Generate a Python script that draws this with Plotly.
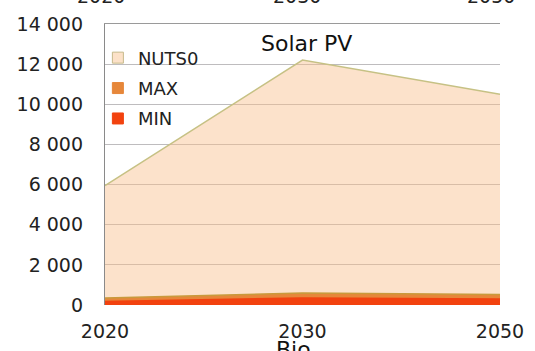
import plotly.graph_objects as go

years = ["2020", "2030", "2050"]
nuts0 = [5950, 12200, 10500]
max_vals = [350, 600, 520]
min_vals = [180, 350, 300]
series_names = ["NUTS0", "MAX", "MIN"]
y_ticks = [0, 2000, 4000, 6000, 8000, 10000, 12000, 14000]
top_labels = ["2020", "2030", "2050"]
title_text = "Solar PV"
next_title = "Bio"

FONT = "DejaVu Sans"
fills = ["rgba(248,190,140,0.45)", "#E6873A", "#F2420F"]
lines = ["#C6C184", "#C99A3C", "#F2420F"]
legend_fill = ["#FCE1C8", "#E6873A", "#F2420F"]
legend_line = ["#C6B98A", "#E6873A", "#F2420F"]
values = [nuts0, max_vals, min_vals]

fig = go.Figure()
for name, vals, fc, lc in zip(series_names, values, fills, lines):
    fig.add_trace(go.Scatter(
        x=years, y=vals, mode="lines", fill="tozeroy",
        fillcolor=fc, line=dict(color=lc, width=1.5),
        showlegend=False, name=name, hoverinfo="skip"))

for i, name in enumerate(series_names):
    fig.add_trace(go.Scatter(
        x=[None], y=[None], mode="markers", name=name,
        legendgroup=name,
        marker=dict(symbol="square", size=11, color=legend_fill[i],
                    line=dict(color=legend_line[i], width=1))))

# invisible trace to activate the top axis
fig.add_trace(go.Scatter(x=years, y=[None]*3, xaxis="x2", showlegend=False,
                         mode="lines", hoverinfo="skip"))

fig.update_layout(
    width=535, height=351,
    margin=dict(l=105, r=35, t=24, b=46),
    paper_bgcolor="white", plot_bgcolor="white",
    separators=". ",
    font=dict(family=FONT, size=18, color="#222222"),
    showlegend=True,
    legend=dict(x=-0.018, y=0.945, xanchor="left", yanchor="top",
                bgcolor="rgba(0,0,0,0)", font=dict(size=18, color="#222222"),
                tracegroupgap=4, itemclick=False),
    xaxis=dict(type="category", categoryorder="array", categoryarray=years,
               range=[0, 2], showgrid=False, zeroline=False, showline=False,
               ticks="", ticklabelstandoff=13, automargin=False,
               tickfont=dict(size=19, color="#222222")),
    xaxis2=dict(type="category", overlaying="x", side="top", range=[0, 2],
                showgrid=False, zeroline=False, showline=True, automargin=False,
                linecolor="#9A9A9A", linewidth=1.3, showticklabels=False,
                ticks=""),
    yaxis=dict(range=[0, 14000], tickvals=y_ticks, tickformat=",d",
               showgrid=True, gridcolor="rgb(190,188,190)", gridwidth=1,
               zeroline=False, showline=True, linecolor="#8A8A8A", linewidth=1.3,
               ticks="", ticklabelstandoff=17, automargin=False,
               tickfont=dict(size=19, color="#222222")),
)

annotations = [
    dict(text=title_text, x=0.511, y=0.932, xref="paper", yref="paper",
         xanchor="center", yanchor="middle", showarrow=False,
         font=dict(size=22, color="#111111", family=FONT)),
    dict(text=next_title, x=0.476, y=-0.107, xref="paper", yref="paper",
         xanchor="center", yanchor="top", showarrow=False,
         font=dict(size=22, color="#111111", family=FONT)),
]
for lbl, xp in zip(top_labels, [-0.01, 0.486, 0.977]):
    annotations.append(dict(text=lbl, x=xp, y=1.1, xref="paper", yref="paper",
                            xanchor="center", yanchor="middle", showarrow=False,
                            font=dict(size=19, color="#222222", family=FONT)))
fig.update_layout(annotations=annotations)

fig.write_html("out.html", config={"displayModeBar": False},
               post_script="document.body.style.margin='0';document.body.style.overflow='hidden';")
